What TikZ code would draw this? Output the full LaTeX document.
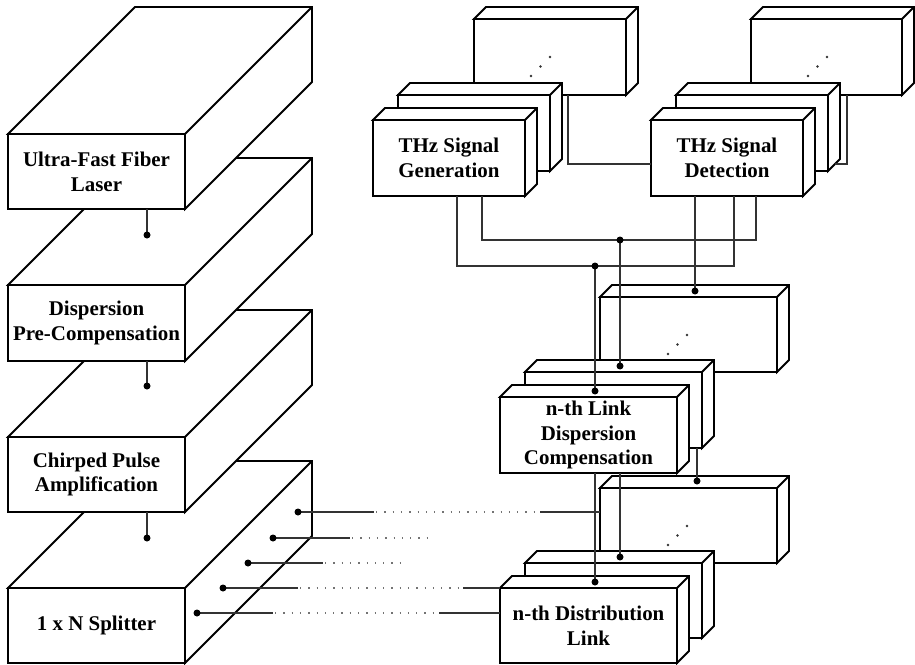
\documentclass[tikz,border=0pt]{standalone}
\usepackage{fontspec}
\setmainfont{Liberation Serif}
\usetikzlibrary{calc}
\newcommand{\cubebox}[7]{%
  \node[face, minimum width=#4bp, minimum height=#5bp] (#1) at (#2,#3) {#7};
  \filldraw[boxline, fill=white] (#1.north west) -- ++(#6,-#6) -- ++(#4,0) -- ++(0,#5) -- (#1.south east) -- (#1.north east) -- cycle;
  \draw[boxline] (#1.north east) -- ++(#6,-#6);
}
\newcommand{\ellip}[2]{%
  \fill[black!80] ($(#1.north west)+(#2,57)$) circle (1.3);
  \fill[black!80] ($(#1.north west)+(#2+9.5,47.5)$) circle (1.3);
  \fill[black!80] ($(#1.north west)+(#2+19,38)$) circle (1.3);
}
\begin{document}
\begin{tikzpicture}[x=1bp,y=-1bp,
  boxline/.style={line width=1.8bp, draw=black, line join=miter},
  face/.style={boxline, fill=white, inner sep=0pt, outer sep=0pt, anchor=north west, align=center,
    font=\bfseries\fontsize{21}{25}\selectfont},
  conn/.style={line width=1.1bp, draw=black!80},
  dotseg/.style={line width=1.3bp, draw=black!55, dash pattern=on 1.3bp off 7bp},
  jdot/.style={circle, fill=black, inner sep=0pt, minimum size=7bp}
]
\path[use as bounding box] (0,0) rectangle (915,665);

% ---- left stack ----
\cubebox{L4}{8}{588}{177}{75}{127}{1 x N Splitter}
\cubebox{L3}{8}{437}{177}{75}{127}{Chirped Pulse\\Amplification}
\cubebox{L2}{8}{285}{177}{76}{127}{Dispersion\\Pre-Compensation}
\cubebox{L1}{8}{134}{177}{75}{127}{Ultra-Fast Fiber\\Laser}

% ---- THz generation group ----
\cubebox{G3}{474}{19}{152}{76}{12}{}
\cubebox{G2}{398}{95}{152}{76}{12}{}
\cubebox{G}{373}{120}{152}{76}{12}{THz Signal\\Generation}
% ---- THz detection group ----
\cubebox{D3}{751}{19}{151}{76}{12}{}
\cubebox{D2}{676}{95}{152}{76}{12}{}
\cubebox{D}{651}{120}{152}{76}{12}{THz Signal\\Detection}
% ---- dispersion compensation group ----
\cubebox{M3}{600}{297}{177}{75}{12}{}
\cubebox{M2}{525}{372}{177}{76}{12}{}
\cubebox{M}{500}{397}{177}{76}{12}{n-th Link\\Dispersion\\Compensation}
% ---- distribution link group ----
\cubebox{N3}{600}{488}{177}{75}{12}{}
\cubebox{N2}{525}{563}{177}{75}{12}{}
\cubebox{N}{500}{588}{177}{75}{12}{n-th Distribution\\Link}

\ellip{G3}{57}
\ellip{D3}{57}
\ellip{M3}{68}
\ellip{N3}{68}

% ---- coordinates ----
\coordinate (d1) at (147,235);
\coordinate (d2) at (147,386);
\coordinate (d3) at (147,538);
\coordinate (g3a) at (568,164);
\coordinate (d3a) at (847,164);
\coordinate (d2side) at (835,164);
\coordinate (c3a) at (482,240);
\coordinate (c3b) at (756,240);
\coordinate (c4a) at (457,266);
\coordinate (c4b) at (734,266);
\coordinate (j1) at (620,240);
\coordinate (j2) at (595,266);
\coordinate (j3) at (695,291);
\coordinate (k1) at (620,366);
\coordinate (k2) at (595,391);
\coordinate (k3) at (595,582);
\coordinate (k4) at (620,557);
\coordinate (k5) at (697,481);
\coordinate (s1) at (298,512);
\coordinate (s2) at (273,538);
\coordinate (s3) at (248,563);
\coordinate (s4) at (223,588);
\coordinate (s5) at (197,613);

% ---- left stack links ----
\draw[conn] (L1.south -| d1) -- (d1);
\draw[conn] (L2.south -| d2) -- (d2);
\draw[conn] (L3.south -| d3) -- (d3);

% ---- top links ----
\draw[conn] (G3.south -| g3a) -- (g3a) -- (D.west |- g3a);
\draw[conn] (D3.south -| d3a) -- (d3a) -- (d2side);
\draw[conn] (G.south -| c3a) -- (c3a) -- (c3b) -- (D.south -| c3b);
\draw[conn] (G.south -| c4a) -- (c4a) -- (c4b) -- (D.south -| c4b);
\draw[conn] (D.south -| j3) -- (j3);
\draw[conn] (j1) -- (k1);
\draw[conn] (j2) -- (k2);
\draw[conn] (M.south -| k3) -- (k3);
\draw[conn] (M.south -| k4) -- (k4);
\draw[conn] (M2.south -| k5) -- (k5);

% ---- splitter outputs ----
\draw[conn] (s1) -- (374,512);
\draw[dotseg] (376,512) -- (534,512);
\draw[conn] (540,512) -- (N3.west |- s1);
\draw[conn] (s2) -- (350,538);
\draw[dotseg] (352,538) -- (428,538);
\draw[conn] (s3) -- (323,563);
\draw[dotseg] (325,563) -- (403,563);
\draw[conn] (s4) -- (298,588);
\draw[dotseg] (300,588) -- (460,588);
\draw[conn] (463,588) -- (N.west |- s4);
\draw[conn] (s5) -- (273,613);
\draw[dotseg] (275,613) -- (436,613);
\draw[conn] (439,613) -- (N.west |- s5);

% ---- junction dots ----
\foreach \p in {d1,d2,d3,j1,j2,j3,k1,k2,k3,k4,k5,s1,s2,s3,s4,s5}
  \node[jdot] at (\p) {};
\end{tikzpicture}
\end{document}
